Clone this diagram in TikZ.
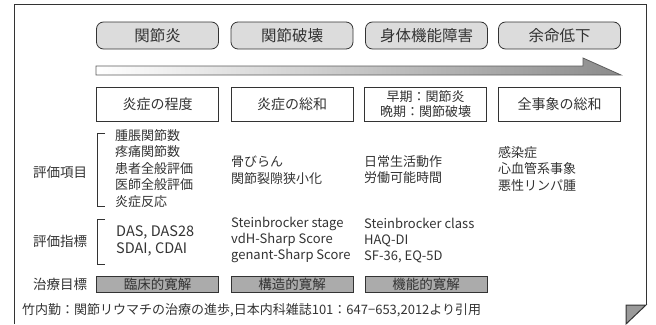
\documentclass[tikz,border=0pt]{standalone}
\usepackage{fontspec}
\setmainfont{Noto Sans CJK JP}
\definecolor{ink}{HTML}{333333}
\definecolor{hdrgray}{HTML}{DCDCDC}
\definecolor{goalgray}{HTML}{ABABAB}
\definecolor{arrowgray}{HTML}{8C8C8C}
\definecolor{foldgray}{HTML}{9A9A9A}
\begin{document}
\begin{tikzpicture}[x=1pt,y=-1pt,
  hdr/.style={draw=ink, fill=hdrgray, rounded corners=7pt, line width=0.8pt, minimum width=122pt, minimum height=27pt, inner sep=0pt, text=ink, font=\fontsize{15.5}{18}\selectfont},
  catbox/.style={draw=ink, fill=white, line width=0.8pt, minimum width=122pt, minimum height=34pt, inner sep=0pt, align=center, text=ink, font=\fontsize{14}{15}\selectfont},
  goalbox/.style={draw=ink, fill=goalgray, line width=0.8pt, minimum width=122pt, minimum height=16pt, inner sep=0pt, text=ink, font=\fontsize{13.5}{15}\selectfont},
  rowlbl/.style={inner sep=0pt, text=ink, font=\fontsize{13.5}{16}\selectfont},
  items/.style={anchor=west, align=left, inner sep=0pt, text=ink, font=\fontsize{13}{16.5}\selectfont},
  latin/.style={anchor=west, align=left, inner sep=0pt, text=ink, font=\fontsize{13}{16}\selectfont},
  bracketline/.style={draw=ink, line width=0.8pt},
  frameline/.style={draw=ink, line width=1pt}]
\useasboundingbox (0,0) rectangle (656,324);
% frame with folded corner
\draw[frameline] (14,324) -- (14,4) -- (646,4) -- (646,305);
\filldraw[frameline, fill=foldgray] (626,305) -- (646,305) -- (626,324) -- cycle;
% header boxes
\node[hdr] (h1) at (157.5,35.5) {関節炎};
\node[hdr] (h2) at (292,35.5) {関節破壊};
\node[hdr] (h3) at (426.5,35.5) {身体機能障害};
\node[hdr] (h4) at (559.5,35.5) {余命低下};
% progression arrow
\shadedraw[left color=white, right color=arrowgray, draw=ink!80, line width=0.8pt]
  (96,66) -- (583,66) -- (583,58) -- (621,75) -- (96,75) -- cycle;
% category boxes
\node[catbox] (c1) at (157.5,104) {炎症の程度};
\node[catbox] (c2) at (292,104) {炎症の総和};
\node[catbox, font=\fontsize{13}{15}\selectfont] (c3) at (425.5,104) {早期：関節炎\\晩期：関節破壊};
\node[catbox] (c4) at (559.5,104) {全事象の総和};
% row labels
\node[rowlbl] (l1) at (60,172) {評価項目};
\node[rowlbl] (l2) at (60,241) {評価指標};
\node[rowlbl] (l3) at (60,284) {治療目標};
% brackets
\draw[bracketline] (105,133) -- (97,133) -- (97,206) -- (105,206);
\draw[bracketline] (105,219) -- (97,219) -- (97,264) -- (105,264);
% evaluation items
\node[items] (i1) at (115,168.5) {腫脹関節数\\疼痛関節数\\患者全般評価\\医師全般評価\\炎症反応};
\node[items] (i2) at (231,170) {骨びらん\\関節裂隙狭小化};
\node[items] (i3) at (364,169.5) {日常生活動作\\労働可能時間};
\node[items] (i4) at (498,169) {感染症\\心血管系事象\\悪性リンパ腫};
% indices
\node[latin, font=\fontsize{14.5}{17}\selectfont] (x1) at (116,241) {DAS, DAS28\\SDAI, CDAI};
\node[latin] (x2) at (231,240) {Steinbrocker stage\\vdH-Sharp Score\\genant-Sharp Score};
\node[latin] (x3) at (364,241) {Steinbrocker class\\HAQ-DI\\SF-36, EQ-5D};
% treatment goals
\node[goalbox] (g1) at (157.5,284) {臨床的寛解};
\node[goalbox] (g2) at (292,284) {構造的寛解};
\node[goalbox] (g3) at (426,284) {機能的寛解};
% source
\node[anchor=west, inner sep=0pt, text=ink, font=\fontsize{13}{15}\selectfont] (src) at (22,310) {竹内勤：関節リウマチの治療の進歩,日本内科雑誌101：647−653,2012より引用};
\end{tikzpicture}
\end{document}
